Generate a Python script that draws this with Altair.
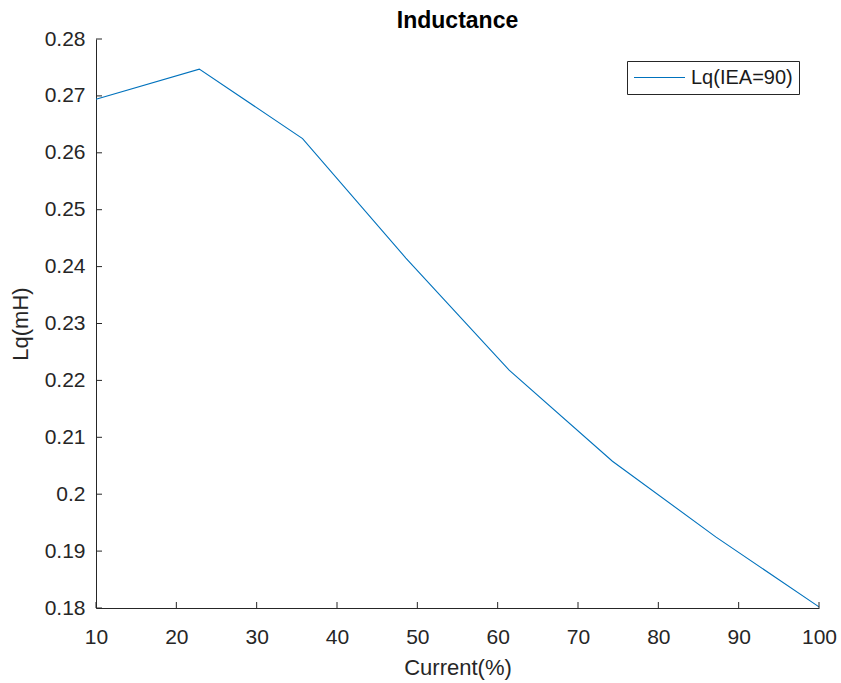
import altair as alt
import pandas as pd

# ---- data ----
current = [10, 22.857, 35.714, 48.571, 61.429, 74.286, 87.143, 100]
lq = [0.2694, 0.2747, 0.2625, 0.2415, 0.2218, 0.2058, 0.1925, 0.1802]
series_name = "Lq(IEA=90)"
chart_title = "Inductance"

x_ticks = [10, 20, 30, 40, 50, 60, 70, 80, 90, 100]
y_ticks = [0.18, 0.19, 0.20, 0.21, 0.22, 0.23, 0.24, 0.25, 0.26, 0.27, 0.28]

W, H = 723, 569
AX = "#262626"
FONT = "Liberation Sans"

df = pd.DataFrame({"Current": current, "Lq": lq, "series": [series_name] * len(current)})
xt = pd.DataFrame({"Current": x_ticks})
yt = pd.DataFrame({"Lq": y_ticks})
tt = pd.DataFrame({"label": [chart_title]})

xscale = alt.Scale(domain=[10, 100], nice=False, zero=False)
yscale = alt.Scale(domain=[0.18, 0.28], nice=False, zero=False)

xaxis = alt.Axis(
    values=x_ticks, format="d", title="Current(%)",
    labelFontSize=21, labelPadding=18, labelFlush=False, labelOverlap=False,
    titleFontSize=22, titleFontWeight="normal", titleY=66, titleBaseline="alphabetic",
    titleColor=AX,
)
yaxis = alt.Axis(
    values=y_ticks, format=".2~f", title="Lq(mH)",
    labelFontSize=21, labelPadding=11, labelFlush=False, labelOverlap=False,
    titleFontSize=22, titleFontWeight="normal", titleX=-69, titleY=H / 2,
    titleBaseline="alphabetic", titleAlign="center", titleAngle=270, titleColor=AX,
)

line = alt.Chart(df).mark_line(strokeWidth=1.1).encode(
    x=alt.X("Current:Q", scale=xscale, axis=xaxis),
    y=alt.Y("Lq:Q", scale=yscale, axis=yaxis),
    color=alt.Color(
        "series:N",
        scale=alt.Scale(domain=[series_name], range=["#0072BD"]),
        legend=alt.Legend(
            title=None, orient="none", legendX=531, legendY=22,
            symbolType="stroke", symbolSize=2601, symbolStrokeWidth=1.2,
            clipHeight=21, labelFontSize=20, labelFont=FONT, labelColor="#1a1a1a",
            labelOffset=5, padding=6, strokeColor=AX, fillColor="white",
            cornerRadius=0,
        ),
    ),
)

xtick_layer = alt.Chart(xt).mark_rule(color=AX, strokeWidth=1).encode(
    x=alt.X("Current:Q", scale=xscale, axis=xaxis),
    y=alt.value(H),
    y2=alt.value(H - 6),
)

ytick_layer = alt.Chart(yt).mark_rule(color=AX, strokeWidth=1).encode(
    y=alt.Y("Lq:Q", scale=yscale, axis=yaxis),
    x=alt.value(0),
    x2=alt.value(6),
)

title_layer = alt.Chart(tt).mark_text(
    font=FONT, fontSize=23, fontWeight="bold", color="black",
    align="center", baseline="alphabetic",
).encode(
    text="label:N",
    x=alt.value(W / 2),
    y=alt.value(-11),
)

chart = (
    alt.layer(line, xtick_layer, ytick_layer, title_layer)
    .properties(
        width=W,
        height=H,
        autosize=alt.AutoSizeParams(type="none"),
        padding={"left": 96, "top": 39, "right": 22, "bottom": 75},
        background="white",
    )
    .configure_axis(
        domainColor=AX, domainWidth=1, labelColor=AX, labelFont=FONT, titleFont=FONT,
        grid=False, ticks=False, tickSize=0,
    )
    .configure_view(stroke=None)
)

chart.save("out.html", embed_options={"renderer": "svg", "actions": False})
